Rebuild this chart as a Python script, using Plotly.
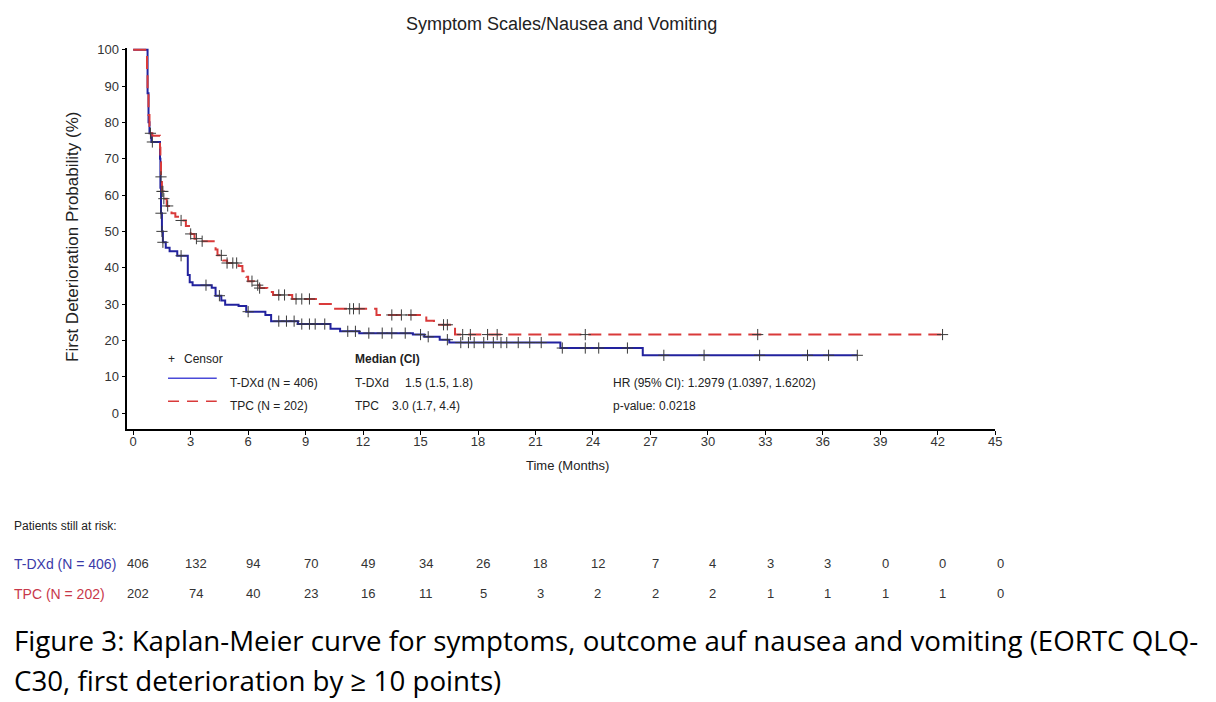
import numpy as np
import plotly.graph_objects as go

# Kaplan-Meier step curves (time in months, probability in %)
tdxd_time = [0, 0.75, 0.80, 0.85, 0.95, 1.40, 1.42, 1.45, 1.50, 1.55, 1.70, 1.90, 2.30,
             2.85, 2.95, 3.10, 4.10, 4.30, 4.60, 4.80, 5.50, 5.90, 6.90, 7.20, 8.60,
             10.3, 10.8, 11.8, 14.6, 15.2, 16.0, 16.5, 22.3, 26.6, 37.8]
tdxd_surv = [100, 88, 80, 77, 74.6, 70, 62, 55, 50, 47, 45.5, 44.5, 43.3,
             38, 36, 35.2, 34.5, 32.3, 31, 29.8, 29.5, 27.9, 27, 25.3, 24.5,
             23.2, 22.5, 22.0, 21.6, 21.0, 20.2, 19.4, 17.9, 15.9, 15.9]

tpc_time = [0, 0.72, 0.75, 0.80, 0.85, 0.90, 1.00, 1.40, 1.42, 1.45, 1.50, 1.60, 1.75,
            2.00, 2.20, 2.50, 2.75, 3.00, 3.20, 3.50, 4.30, 4.40, 4.70, 4.90, 5.50,
            5.70, 5.90, 6.00, 6.30, 6.60, 7.00, 7.30, 8.30, 9.60, 10.4, 12.7, 15.3,
            15.7, 16.8, 42.25]
tpc_surv = [100, 93, 88, 82, 79, 77, 76.3, 73, 69, 65, 61, 59, 57,
            55, 54, 53, 51.5, 49.3, 48, 47.3, 45, 43.4, 42, 41.3, 40.5,
            39, 37.5, 36.3, 35.2, 34.4, 33.3, 32.5, 31.4, 30.0, 28.7, 27.0, 25.4,
            24.3, 21.6, 21.6]

# Censoring times
tdxd_censor = [1.0, 1.45, 1.5, 1.55, 2.5, 3.8, 4.5, 6.0, 7.6, 8.0, 8.4, 8.8, 9.2, 9.5,
               10.0, 11.2, 11.6, 12.3, 13.0, 13.5, 14.2, 15.0, 15.4, 16.4, 17.1, 17.5,
               17.8, 18.3, 18.8, 19.2, 19.5, 20.1, 20.7, 21.3, 22.4, 23.6, 24.3, 25.8,
               27.7, 29.8, 32.7, 35.2, 36.3, 37.8]
tpc_censor = [0.9, 1.45, 1.5, 1.55, 1.6, 1.8, 2.5, 3.0, 3.3, 3.6, 4.6, 4.9, 5.2, 5.4,
              6.2, 6.5, 6.6, 7.6, 7.9, 8.5, 8.8, 9.2, 11.3, 11.5, 11.8, 13.5, 14.0,
              14.5, 16.2, 16.4, 17.2, 17.6, 18.5, 19.0, 23.6, 32.6, 42.25]

# Numbers at risk every 3 months
risk_times = list(range(0, 46, 3))
tdxd_risk = [406, 132, 94, 70, 49, 34, 26, 18, 12, 7, 4, 3, 3, 0, 0, 0]
tpc_risk = [202, 74, 40, 23, 16, 11, 5, 3, 2, 2, 2, 1, 1, 1, 1, 0]

BLUE = "#22229e"
RED = "#d93a3a"
FONT = "Liberation Sans"
W, H = 1216, 702


def step_value(times, surv, t):
    idx = np.searchsorted(np.asarray(times), t, side="right") - 1
    return np.asarray(surv)[idx]


fig = go.Figure()

fig.add_trace(go.Scatter(x=tdxd_time, y=tdxd_surv, mode="lines", line_shape="hv",
                         line=dict(color=BLUE, width=2), showlegend=False,
                         hoverinfo="skip"))
fig.add_trace(go.Scatter(x=tpc_time, y=tpc_surv, mode="lines", line_shape="hv",
                         line=dict(color=RED, width=2, dash="13px,7px"),
                         showlegend=False, hoverinfo="skip"))

for times, surv, cens in [(tdxd_time, tdxd_surv, tdxd_censor),
                          (tpc_time, tpc_surv, tpc_censor)]:
    fig.add_trace(go.Scatter(
        x=cens, y=[step_value(times, surv, c) for c in cens], mode="markers",
        marker=dict(symbol="cross-thin-open", size=8, color="#3a3a3a",
                    line=dict(color="#3a3a3a", width=1)),
        showlegend=False, hoverinfo="skip"))


def px(x):
    return x / W


def py(y):
    return 1 - y / H


fig.update_layout(
    width=W, height=H,
    margin=dict(l=0, r=0, t=0, b=0),
    paper_bgcolor="white", plot_bgcolor="white",
    font=dict(family=FONT, color="#222222", size=12),
    xaxis=dict(domain=[px(128), px(1001)], range=[-0.31, 45],
               tickmode="array", tickvals=risk_times,
               showline=True, linecolor="black", linewidth=1.5,
               ticks="outside", ticklen=4, tickcolor="black",
               ticklabelstandoff=-4,
               showgrid=False, zeroline=False,
               tickfont=dict(size=13, color="#333333")),
    yaxis=dict(domain=[py(427), py(43)], range=[-4.37, 100.55],
               tickmode="array", tickvals=list(range(0, 101, 10)),
               showline=True, linecolor="black", linewidth=1.5,
               ticks="outside", ticklen=4, tickcolor="black",
               showgrid=False, zeroline=False,
               tickfont=dict(size=13, color="#333333")),
)

ann = []


def text(x, y, s, size=12, color="#222222", xanchor="left", family=FONT, **kw):
    ann.append(dict(x=px(x), y=py(y), xref="paper", yref="paper", text=s,
                    showarrow=False, xanchor=xanchor, yanchor="middle",
                    font=dict(size=size, color=color, family=family), **kw))


text(565, 19, "Symptom Scales/Nausea and Vomiting", size=18, xanchor="center")
text(571, 464, "Time (Months)", size=13, xanchor="center")
ann.append(dict(x=px(73), y=py(234), xref="paper", yref="paper",
                text="First Deterioration Probability (%)", textangle=-90,
                showarrow=False, xanchor="center", yanchor="middle",
                font=dict(size=17, color="#222222", family=FONT)))

# Legend
text(167, 357, "+", size=12)
text(183, 357, "Censor", size=12)
text(229, 381, "T-DXd (N = 406)", size=12)
text(229, 404, "TPC (N = 202)", size=12)
fig.add_shape(type="line", xref="paper", yref="paper", x0=px(169), x1=px(218),
              y0=py(376), y1=py(376), line=dict(color="#4a4ad8", width=1.5))
fig.add_shape(type="line", xref="paper", yref="paper", x0=px(169), x1=px(218),
              y0=py(399), y1=py(399), line=dict(color=RED, width=1.5, dash="11px,8px"))

# Median summary
text(355, 357, "<b>Median (CI)</b>", size=12)
text(355, 381, "T-DXd", size=12)
text(405, 381, "1.5 (1.5, 1.8)", size=12)
text(355, 404, "TPC", size=12)
text(392, 404, "3.0 (1.7, 4.4)", size=12)
text(615, 381, "HR (95% CI): 1.2979 (1.0397, 1.6202)", size=12)
text(615, 404, "p-value: 0.0218", size=12)

# Risk table
text(12, 525, "Patients still at risk:", size=12)
text(12, 563, "T-DXd (N = 406)", size=14, color="#3a3aa8")
text(12, 593, "TPC (N = 202)", size=14, color="#c8384a")
for t, a, b in zip(risk_times, tdxd_risk, tpc_risk):
    for val, y in [(a, 563), (b, 593)]:
        ann.append(dict(x=t, y=py(y), xref="x", yref="paper", text=str(val),
                        showarrow=False, xanchor="center", yanchor="middle",
                        xshift=5, font=dict(size=13, color="#333333", family=FONT)))

# Caption
text(12, 640, "Figure 3: Kaplan-Meier curve for symptoms, outcome auf nausea and vomiting (EORTC QLQ-",
     size=27.7, color="black", family="Open Sans")
text(12, 680, "C30, first deterioration by \u2265 10 points)", size=27.7, color="black",
     family="Open Sans")

fig.update_layout(annotations=ann)
fig.write_html("out.html")
